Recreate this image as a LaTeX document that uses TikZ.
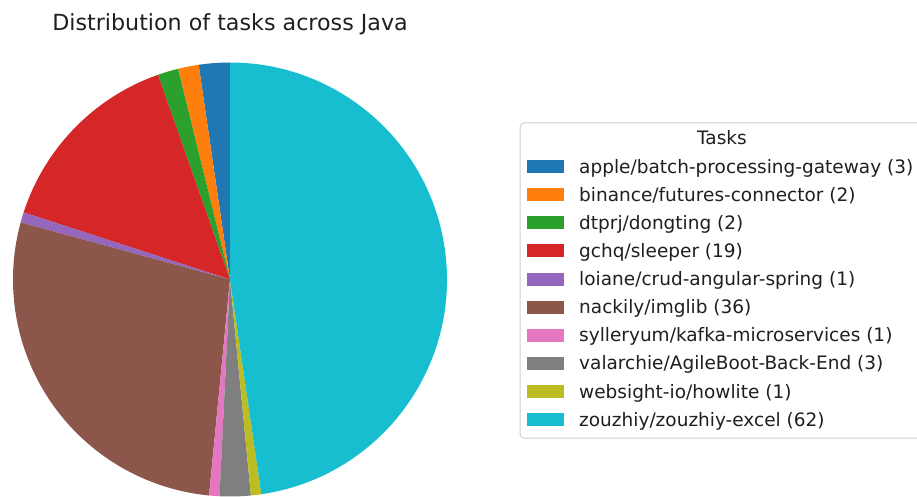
\documentclass[tikz,border=0pt]{standalone}
\usepackage{fontspec}
\setmainfont{DejaVu Sans}
\definecolor{c0}{HTML}{1F77B4}
\definecolor{c1}{HTML}{FF7F0E}
\definecolor{c2}{HTML}{2CA02C}
\definecolor{c3}{HTML}{D62728}
\definecolor{c4}{HTML}{9467BD}
\definecolor{c5}{HTML}{8C564B}
\definecolor{c6}{HTML}{E377C2}
\definecolor{c7}{HTML}{7F7F7F}
\definecolor{c8}{HTML}{BCBD22}
\definecolor{c9}{HTML}{17BECF}
\definecolor{legedge}{HTML}{D0D0D0}
\tikzset{
  legtext/.style={anchor=base west, inner sep=0pt, font=\fontsize{18.5}{22}\selectfont, text=black!88},
  legpatch/.style={minimum width=36.5pt, minimum height=13pt, inner sep=0pt, draw=none},
  titletext/.style={anchor=base, inner sep=0pt, font=\fontsize{22.2}{26}\selectfont, text=black!88}
}
\newcommand{\pieslice}[3]{%
  \fill[#3] (230,-279.5) -- ++(#1:217) arc[start angle=#1, end angle=#2, radius=217] -- cycle;}
\begin{document}
\begin{tikzpicture}[x=1pt,y=1pt]
\useasboundingbox (0,0) rectangle (917,-497);
% title
\node[titletext] (title) at (230,-31) {Distribution of tasks across Java};
% pie
\pieslice{90}{98.3077}{c0}
\pieslice{98.3077}{103.846}{c1}
\pieslice{103.846}{109.385}{c2}
\pieslice{109.385}{162.0}{c3}
\pieslice{162.0}{164.769}{c4}
\pieslice{164.769}{264.462}{c5}
\pieslice{264.462}{267.231}{c6}
\pieslice{267.231}{275.538}{c7}
\pieslice{275.538}{278.308}{c8}
\pieslice{278.308}{450}{c9}
% legend frame (cut at right edge)
\draw[legedge, line width=1pt] (917,-123) -- (524,-123) arc[start angle=90, end angle=180, radius=4] -- (520,-434) arc[start angle=180, end angle=270, radius=4] -- (917,-438);
\node[legtext, anchor=base] (legtitle) at (722,-145) {Tasks};
% legend entries
\foreach \i/\col/\lab in {
  0/c0/{apple/batch-processing-gateway (3)},
  1/c1/{binance/futures-connector (2)},
  2/c2/{dtprj/dongting (2)},
  3/c3/{gchq/sleeper (19)},
  4/c4/{loiane/crud-angular-spring (1)},
  5/c5/{nackily/imglib (36)},
  6/c6/{sylleryum/kafka-microservices (1)},
  7/c7/{valarchie/AgileBoot-Back-End (3)},
  8/c8/{websight-io/howlite (1)},
  9/c9/{zouzhiy/zouzhiy-excel (62)}}{
  \node[legpatch, fill=\col] (patch\i) at (545.25,{-166.5-28.13*\i}) {};
  \node[legtext] (lab\i) at (579,{-173-28.13*\i}) {\lab};
}
\end{tikzpicture}
\end{document}
